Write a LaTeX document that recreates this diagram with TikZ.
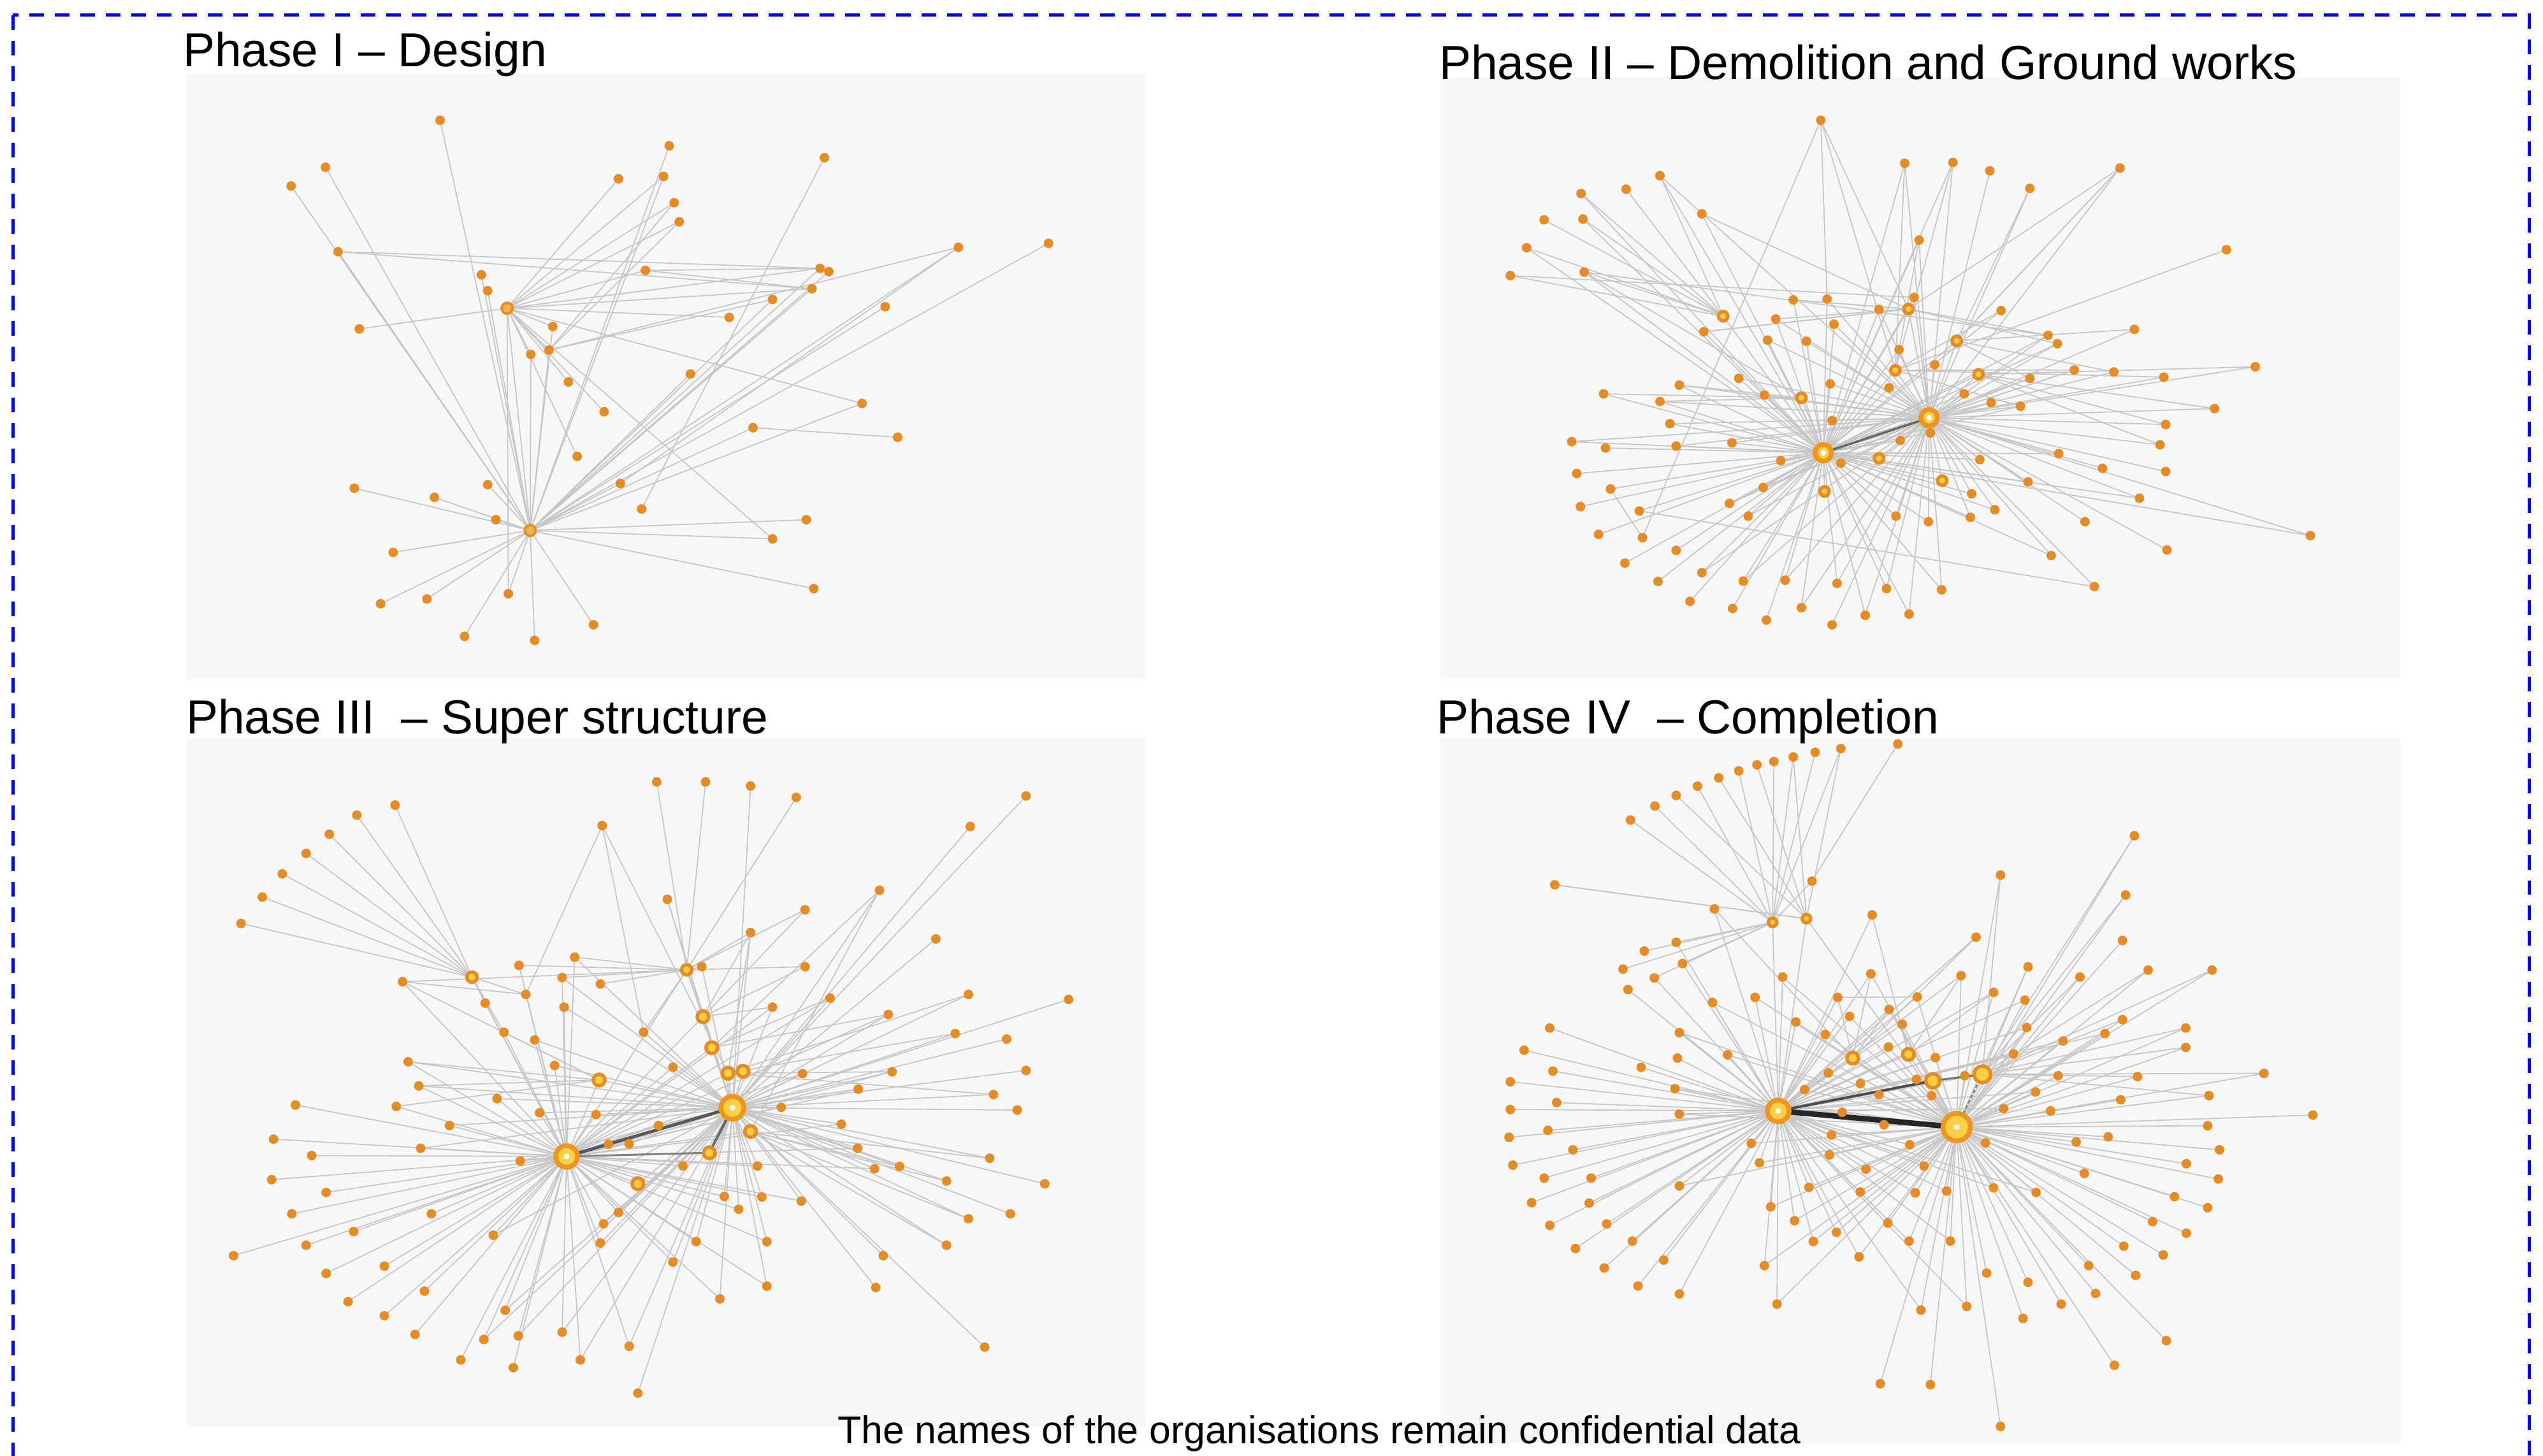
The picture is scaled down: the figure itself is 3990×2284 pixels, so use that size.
\documentclass[tikz,border=0pt]{standalone}
\usepackage{fontspec}
\setmainfont{Liberation Sans}
\definecolor{dotor}{RGB}{229,140,36}
\definecolor{ringor}{RGB}{236,150,30}
\definecolor{hubyel}{RGB}{252,208,70}
\definecolor{lightor}{RGB}{242,178,80}
\definecolor{edgegray}{RGB}{198,198,198}
\definecolor{panelbg}{RGB}{247,247,247}
\definecolor{frameblue}{RGB}{0,0,255}
\tikzset{
  gdot/.style={circle,fill=dotor,inner sep=0pt,minimum size=1.5pt},
  hubI/.style={circle,fill=lightor,draw=dotor,line width=0.4pt,inner sep=0pt,minimum size=1.7pt},
  mhub/.style={circle,fill=hubyel,draw=dotor,line width=0.55pt,inner sep=0pt,minimum size=#1},
  bhub/.style={circle,fill=hubyel,draw=ringor,line width=0.75pt,inner sep=0pt,minimum size=#1,
     path picture={\fill[white] (path picture bounding box.center) circle (0.45pt);}},
  lnk/.style={draw=edgegray,line width=0.17pt},
  ttl/.style={anchor=base west,inner sep=0pt,font=\fontsize{7.5pt}{9pt}\selectfont}
}
\newcommand\hubparse[4]{%
  \if1#1\draw[lnk] (\HA) -- (\curN);\fi
  \if1#2\draw[lnk] (\HB) -- (\curN);\fi
  \if1#3\draw[lnk] (\HC) -- (\curN);\fi
  \if1#4\draw[lnk] (\HD) -- (\curN);\fi}
\newcommand\netcoords[1]{\foreach \nm/\px/\py/\cd in #1 {\coordinate (\nm) at (\px,\py);}}
\newcommand\netedges[1]{\foreach \nm/\px/\py/\cd in #1 {\edef\curN{\nm}\expandafter\hubparse\cd}}
\newcommand\netnodes[2]{\foreach \nm/\px/\py/\cd in #2 {\node[#1] (\nm) at (\px,\py) {};}}
\newcommand\extraedges[1]{\foreach \ea/\eb in {#1} {\draw[lnk] (\ea) -- (\eb);}}
\newcommand\fanedges[2]{\foreach \eb in {#2} {\draw[lnk] (#1) -- (\eb);}}
\begin{document}
\begin{tikzpicture}[x=0.1pt,y=-0.1pt]
\useasboundingbox (0,0) rectangle (3990,2284);
% panels
\fill[panelbg] (292,116) rectangle (1797,1066);
\fill[panelbg] (2260,121) rectangle (3766,1066);
\fill[panelbg] (292,1158) rectangle (1797,2240);
\fill[panelbg] (2260,1158) rectangle (3767,2266);
% frame
\draw[frameblue,line width=0.5pt,dash pattern=on 2.3pt off 1.7pt] (20,24) rectangle (3968,2400);
% titles
\node[ttl] (t1) at (285,105) {Phase I – Design};
\node[ttl] (t2) at (2256,125) {Phase II – Demolition and Ground works};
\node[ttl] (t3) at (290,1151) {Phase III\ \ – Super structure};
\node[ttl] (t4) at (2252,1151) {Phase IV\ \ – Completion};
\node[anchor=base,inner sep=0pt,font=\fontsize{6.07pt}{7pt}\selectfont] (t5) at (2070,2265) {The names of the organisations remain confidential data};

% ================= Phase I =================
\begin{scope}[shift={(28pt,-10pt)},x=0.098214pt,y=-0.0625pt]
\def\HA{aA}\def\HB{aB}\def\HC{aA}\def\HD{aA}
\def\Plist{a1/418/142/1000, a2/784/206/1000, a3/1032/236/0000, a4/235/260/1000,
a5/703/289/0100, a6/775/283/1100, a7/180/307/1000, a8/792/349/0100, a9/800/397/0100,
a10/1246/461/1000, a11/1390/451/1000, a12/255/472/1000, a13/746/519/0100, a14/1025/514/1100,
a15/1039/522/1000, a16/484/530/1000, a17/494/570/1000, a18/1012/565/1100, a19/949/592/1000,
a20/1129/610/1000, a21/880/637/0100, a22/289/666/0100, a23/598/660/1100, a24/592/719/1100,
a25/563/730/1100, a26/818/779/1000, a27/623/799/0100, a28/680/874/0100, a29/1092/853/1100,
a30/918/914/1000, a31/1149/938/0000, a32/637/986/0100, a33/494/1057/1000, a34/706/1054/1000,
a35/281/1066/1000, a36/409/1089/1000, a37/740/1118/0000, a38/507/1145/1000, a39/1003/1145/1000,
a40/949/1193/1100, a41/343/1227/1000, a42/1015/1318/1000, a43/527/1331/1100, a44/397/1344/1000,
a45/323/1356/1000, a46/663/1409/1000, a47/457/1438/1000, a48/569/1448/1000}
\coordinate (aA) at (562,1172);
\coordinate (aB) at (525,614);
\netcoords{\Plist}
\netedges{\Plist}
\extraedges{a3/a37, a9/a24, a10/a24, a12/a18, a13/a18, a19/a24, a30/a31, aA/aB, a12/a14, a10/a34, a8/a24, a13/a14}
\netnodes{gdot}{\Plist}
\node[hubI] (aA) at (562,1172) {};
\node[hubI] (aB) at (525,614) {};
\end{scope}

% ================= Phase II =================
\begin{scope}[shift={(225pt,-10pt)},x=0.098214pt,y=-0.0625pt]
\def\HA{bA}\def\HB{bB}\def\HC{bC}\def\HD{bD}
\def\Mlist{bm1/737/770/1100, bm2/587/839/1000, bm4/711/991/1100, bm5/812/1047/1100,
bm6/624/1074/1000, bm7/870/780/1100, bm8/835/696/1100}
\def\Plist{b1/618/142/0000, b2/752/250/0100, b3/829/248/0100, b4/888/269/0100,
b5/1096/262/0100, b6/952/313/0100, b7/361/281/1000, b8/307/315/0010, b9/235/326/0010,
b10/176/392/0010, b11/238/390/0010, b12/428/377/1000, b13/148/462/0010, b14/122/532/0010,
b15/240/523/1010, b16/775/443/1000, b17/1266/467/0000, b18/574/593/1001, b19/628/591/1000,
b20/711/617/1100, b21/767/587/0100, b22/906/620/1000, b23/546/641/1000, b24/639/654/1100,
b25/431/673/1001, b26/533/694/1000, b27/595/697/1100, b28/981/682/0100, b29/996/703/0100,
b30/1119/667/0100, b31/743/718/1100, b32/800/756/0100, b33/1023/769/0100, b34/1086/774/0100,
b35/1312/761/0100, b36/1166/787/0100, b37/952/790/0100, b38/487/790/1000, b39/392/807/1000,
b40/271/829/1000, b41/361/848/1000, b42/528/832/1000, b43/633/804/1100, b44/727/814/1100,
b45/847/829/0100, b46/890/851/0100, b47/937/860/0100, b48/1247/866/0100, b49/377/904/1000,
b50/636/896/1100, b51/1169/906/0100, b52/220/949/1000, b53/274/965/1000, b54/387/960/1000,
b55/476/952/1000, b56/745/946/1100, b57/793/927/0100, b58/1160/957/0100, b59/998/979/0100,
b60/228/1029/1000, b61/554/997/1000, b62/650/1003/1000, b63/872/994/0100, b64/1068/1016/0100,
b65/1169/1024/0100, b66/282/1068/1000, b67/526/1064/1000, b68/949/1050/0100, b69/859/1080/0100,
b70/234/1112/1000, b71/328/1123/1000, b72/472/1104/1000, b73/502/1136/1000, b74/738/1136/0100,
b75/790/1150/0100, b76/857/1139/0100, b77/896/1120/0100, b78/1040/1150/0100, b79/1127/1091/1100,
b80/263/1182/1000, b81/333/1190/0000, b82/1400/1185/1100, b83/387/1222/1000, b84/305/1254/1000,
b85/1171/1221/0100, b86/986/1235/0100, b87/428/1278/1000, b88/358/1300/1000, b89/494/1299/1000,
b90/561/1297/1000, b91/644/1305/1000, b92/723/1318/1100, b93/811/1321/1000, b94/1055/1313/0100,
b95/409/1350/1000, b96/477/1368/1000, b97/587/1366/1000, b98/531/1397/1000, b99/636/1409/0100,
b100/689/1385/1000, b101/759/1382/1000}
\coordinate (bA) at (622,977);
\coordinate (bB) at (791,889);
\coordinate (bC) at (462,634);
\coordinate (bD) at (758,616);
\netcoords{\Mlist}
\netcoords{\Plist}
\netedges{\Mlist}
\netedges{\Plist}
\extraedges{b1/b19, b1/bD, b1/bm1, b1/b81, b5/bD, b5/bm8, b15/b28, b17/bm1, b66/b81, b71/b94,
b9/bA, b11/bA, b7/bC, bC/bA, bD/bA, bD/bB, b14/b21, b13/bA}
\fanedges{bB}{b38,b39,b41,b42,b49,b52,b54,b55,b61,b62,b67,b72,b73,b87,b89,b90,b91,b93,b97,b100,b101,b23,b26,b19,b16,b7}
\fanedges{bA}{b28,b29,b33,b37,b45,b46,b47,b57,b59,b63,b68,b69,b74,b75,b76,b77,b86,b2,b3,b21}
\fanedges{bm1}{b2,b3,b16,b22,b33,b47,b36}
\fanedges{bm8}{b5,b6,b30,b34,b37}
\fanedges{bD}{b12,b18,b23,b25,b28,b29}
\fanedges{bm2}{b40,b39,b41,b15}
\fanedges{bm7}{b35,b48,b51,b58}
\draw[draw=black!60,line width=0.35pt] (bA) -- (bB);
\netnodes{gdot}{\Plist}
\netnodes{mhub=1.45pt}{\Mlist}
\node[mhub=1.45pt] (bC) at (462,634) {};
\node[mhub=1.45pt] (bD) at (758,616) {};
\node[bhub=2.6pt] (bA) at (622,977) {};
\node[bhub=2.6pt] (bB) at (791,889) {};
\end{scope}

% ================= Phase III =================
\begin{scope}[shift={(28pt,-114pt)},x=0.098214pt,y=-0.071429pt]
\def\HA{cA}\def\HB{cB}\def\HC{cC}\def\HD{cD}
\def\Mlist{cm1/878/762/1100, cm2/902/758/0100, cm3/848/937/0000, cm4/672/777/1100,
cm5/852/706/1100, cm6/734/1005/1100, cm7/914/890/1100, cm8/838/638/1100}
\def\Plist{c1/764/122/0001, c2/842/122/0001, c3/914/131/0100, c4/987/156/0001,
c5/1354/153/0100, c6/346/173/0010, c7/285/195/0010, c8/241/237/0010, c9/204/279/0010,
c10/166/324/0010, c11/134/375/0010, c12/100/433/0010, c13/677/218/0000, c14/1265/220/0100,
c15/1120/360/0100, c16/781/380/0100, c17/1001/403/0001, c18/914/453/0101, c19/1210/467/0100,
c20/633/507/1000, c21/544/525/1001, c22/836/528/0101, c23/1001/528/0001, c24/358/561/1001,
c25/613/552/1000, c26/674/566/0001, c27/555/589/1010, c28/490/608/1010, c29/616/617/1000,
c30/949/617/0100, c31/1041/597/0100, c32/1262/589/0100, c33/1422/600/0100, c34/520/672/1010,
c35/569/689/1000, c36/743/672/0101, c37/1134/633/0100, c38/1241/675/0100, c39/1323/687/0100,
c40/367/737/1000, c41/601/745/1000, c42/790/749/1100, c43/997/763/0100, c44/1140/759/0100,
c45/1354/756/0100, c46/384/790/1000, c47/187/832/1000, c48/348/835/1000, c49/509/818/1000,
c50/577/849/1000, c51/667/853/1100, c52/1086/797/0100, c53/1302/809/0100, c54/963/837/0100,
c55/1340/843/0100, c56/433/877/1000, c57/767/877/1100, c58/1059/874/0100, c59/152/907/1000,
c60/213/943/1000, c61/387/927/1000, c62/687/918/1000, c63/720/917/1100, c64/1085/927/0100,
c65/1296/949/0100, c66/546/955/1000, c67/806/966/1100, c68/925/966/0100, c69/1112/972/0100,
c70/1152/967/0100, c71/1384/1005/0100, c72/149/996/1000, c73/236/1024/1000, c74/1227/999/0100,
c75/872/1033/0100, c76/932/1034/0100, c77/995/1043/0100, c78/895/1061/0100, c79/181/1071/1000,
c80/404/1071/1000, c81/703/1068/1000, c82/1262/1082/0100, c83/1329/1071/0100, c84/280/1110/1000,
c85/679/1093/1000, c86/88/1163/1000, c87/204/1140/1000, c88/503/1118/1000, c89/674/1135/1100,
c90/827/1132/0100, c91/940/1132/0100, c92/1227/1140/0100, c93/1126/1163/0100, c94/329/1186/1000,
c95/236/1202/1000, c96/790/1177/1000, c97/393/1241/1000, c98/940/1230/0100, c99/1114/1233/0100,
c100/271/1264/1000, c101/865/1258/0100, c102/522/1283/1000, c103/329/1295/1000, c104/378/1336/1000,
c105/488/1347/1000, c106/543/1339/1000, c107/613/1331/1000, c108/720/1362/1000, c109/1288/1364/0100,
c110/451/1392/1000, c111/535/1409/1000, c112/642/1392/1000, c113/734/1465/0100}
\coordinate (cA) at (620,945);
\coordinate (cB) at (885,838);
\coordinate (cC) at (469,551);
\coordinate (cD) at (812,535);
\netcoords{\Mlist}
\netcoords{\Plist}
\netedges{\Mlist}
\netedges{\Plist}
\extraedges{c13/c27, c13/cm1, c13/c36, c24/c27, c15/cm7, cC/cA, cD/cA, cD/cB, c25/cD, c20/cD}
\fanedges{cB}{c40,c46,c49,c50,c56,c61,c62,c66,c81,c85,c88,c96,c102,c105,c106,c107,c108,c112,c35,c41,c29,c20,c25}
\fanedges{cA}{c30,c31,c43,c52,c54,c58,c64,c68,c69,c75,c76,c77,c78,c90,c91,c98,c101,c37,c44}
\fanedges{cm1}{c32,c38,c44,c53,c18}
\fanedges{cm8}{c16,c17,c18,c23,c30}
\fanedges{cm5}{c37,c31,c15}
\fanedges{cm7}{c65,c70,c74,c82,c92}
\fanedges{cm4}{c24,c40,c46,c48,c34}
\draw[draw=black!50,line width=0.3pt] (cA) -- (cm3);
\draw[draw=black!60,line width=0.4pt] (cB) -- (cm3);
\draw[draw=black!65,line width=0.5pt] (cA) -- (cB);
\netnodes{gdot}{\Plist}
\netnodes{mhub=1.8pt}{\Mlist}
\node[mhub=1.6pt] (cC) at (469,551) {};
\node[mhub=1.6pt] (cD) at (812,535) {};
\node[bhub=3.4pt] (cA) at (620,945) {};
\node[bhub=3.6pt] (cB) at (885,838) {};
\end{scope}

% ================= Phase IV =================
\begin{scope}[shift={(225pt,-114pt)},x=0.098214pt,y=-0.072704pt]
\def\HA{dA}\def\HB{dB}\def\HC{dC}\def\HD{dD}
\def\Plist{d1/741/38/0000, d2/650/48/0011, d3/609/56/0010, d4/574/66/0011, d5/543/76/0010,
d6/516/83/0001, d7/487/96/0010, d8/455/111/0001, d9/421/129/0010, d10/387/149/0001,
d11/353/172/0010, d12/314/202/0010, d13/604/334/0010, d14/193/342/0001, d15/448/394/1000,
d16/700/407/1000, d17/1119/236/0100, d18/905/321/0100, d19/1105/364/0100, d20/866/455/1000,
d21/1100/462/0100, d22/387/466/1010, d23/336/485/0010, d24/397/512/1010, d25/302/524/0010,
d26/352/543/1010, d27/949/519/0100, d28/1141/526/0100, d29/1243/526/0100, d30/698/534/1000,
d31/557/541/1000, d32/842/538/1100, d33/1032/541/0100, d34/310/568/1000, d35/513/585/1000,
d36/645/585/1000, d37/772/584/0100, d38/894/574/1100, d39/445/596/1000, d40/944/591/0100,
d41/727/611/1000, d42/664/626/1000, d43/578/638/1000, d44/1100/633/0100, d45/748/643/1100,
d46/947/650/0100, d47/1201/651/0100, d48/185/651/1000, d49/392/661/1000, d50/625/665/1000,
d51/1072/663/0100, d52/1005/679/0100, d53/1201/693/0100, d54/144/699/1000, d55/726/692/1100,
d56/469/709/1000, d57/389/716/1000, d58/801/715/1100, d59/926/707/0100, d60/190/744/1000,
d61/331/736/1000, d62/630/748/1000, d63/771/762/1100, d64/848/754/0100, d65/997/754/0100,
d66/1124/756/0100, d67/1326/749/0100, d68/122/767/1000, d69/385/782/1000, d70/592/784/1000,
d71/681/771/1000, d72/711/795/1100, d73/795/797/0100, d74/961/789/0100, d75/1238/797/0100,
d76/1097/806/0100, d77/196/812/1000, d78/122/827/1000, d79/392/837/1000, d80/652/833/1000,
d81/910/825/0100, d82/985/830/0100, d83/1404/839/0100, d84/719/860/1100, d85/1236/862/0100,
d86/182/872/1000, d87/120/887/1000, d88/635/882/1000, d89/1077/886/0100, d90/881/899/0100,
d91/1026/897/0100, d92/507/900/1000, d93/760/903/0100, d94/1255/914/0100, d95/222/914/1000,
d96/126/947/1000, d97/520/942/1000, d98/632/925/1100, d99/1202/944/0100, d100/176/975/1000,
d101/251/975/1000, d102/690/956/1100, d103/783/949/0100, d104/1039/965/0100, d105/1253/977/0100,
d106/392/992/1000, d107/599/995/1000, d108/681/1005/1100, d109/769/1007/0100, d110/819/1003/0100,
d111/894/996/0100, d112/962/1006/0100, d113/156/1028/1000, d114/248/1029/1000, d115/1183/1015/0100,
d116/1236/1039/0100, d117/185/1077/1000, d118/276/1074/1000, d119/538/1037/1000, d120/576/1067/1100,
d121/725/1072/0100, d122/1148/1069/0100, d123/1202/1094/0100, d124/226/1127/1000, d125/317/1111/1000,
d126/606/1112/0100, d127/643/1092/1000, d128/759/1111/0100, d129/825/1111/0100, d130/1102/1122/0100,
d131/1165/1141/0100, d132/272/1169/1000, d133/367/1152/1000, d134/528/1164/1000, d135/679/1145/0100,
d136/883/1180/0100, d137/949/1200/0100, d138/1046/1164/0100, d139/1121/1185/0100, d140/326/1208/1000,
d141/392/1225/1000, d142/1057/1224/0100, d143/548/1247/1000, d144/778/1260/0100, d145/851/1252/0100,
d146/1002/1247/0100, d147/941/1278/0100, d148/1170/1326/0100, d149/1087/1379/0100, d150/713/1419/0100,
d151/793/1421/0100, d152/905/1511/0100}
\coordinate (dA) at (550,830);
\coordinate (dB) at (835,865);
\coordinate (dC) at (541,423);
\coordinate (dD) at (595,415);
\coordinate (dE) at (876,751);
\coordinate (dF) at (797,765);
\coordinate (dG) at (669,716);
\coordinate (dH) at (758,708);
\netcoords{\Plist}
\netedges{\Plist}
\extraedges{d1/d13, d36/d37, d17/dE, d19/dE, d14/dD, dC/dA, dD/dA, dD/dB, dG/dA, dG/dB, dH/dA, dH/dB, dE/dA, dF/dB}
\fanedges{dB}{d35,d39,d43,d49,d50,d56,d62,d69,d70,d79,d80,d88,d92,d97,d106,d107,d119,d127,d134,d143,d30,d31,d41,d42}
\fanedges{dA}{d37,d40,d46,d51,d52,d59,d64,d73,d74,d81,d82,d93,d103,d109,d110,d111,d112,d126,d128,d129,d135,d144,d145}
\fanedges{dE}{d18,d27,d28,d29,d33,d44,d47,d53,d65,d66,d67,d75}
\fanedges{dG}{d15,d20,d30,d36,d41}
\fanedges{dH}{d16,d32,d38,d45}
\draw[draw=black!55,line width=0.3pt] (dF) -- (dE);
\draw[draw=black!45,line width=0.3pt,dash pattern=on 0.6pt off 0.3pt] (dE) -- (dB);
\draw[draw=black!70,line width=0.4pt] (dA) -- (dF);
\draw[draw=black!85,line width=0.85pt] (dA) -- (dB);
\netnodes{gdot}{\Plist}
\node[mhub=1.3pt] (dC) at (541,423) {};
\node[mhub=1.3pt] (dD) at (595,415) {};
\node[mhub=1.8pt] (dG) at (669,716) {};
\node[mhub=1.8pt] (dH) at (758,708) {};
\node[mhub=2.2pt] (dF) at (797,765) {};
\node[mhub=2.6pt] (dE) at (876,751) {};
\node[bhub=3.4pt] (dA) at (550,830) {};
\node[bhub=4.3pt] (dB) at (835,865) {};
\end{scope}
\end{tikzpicture}
\end{document}
